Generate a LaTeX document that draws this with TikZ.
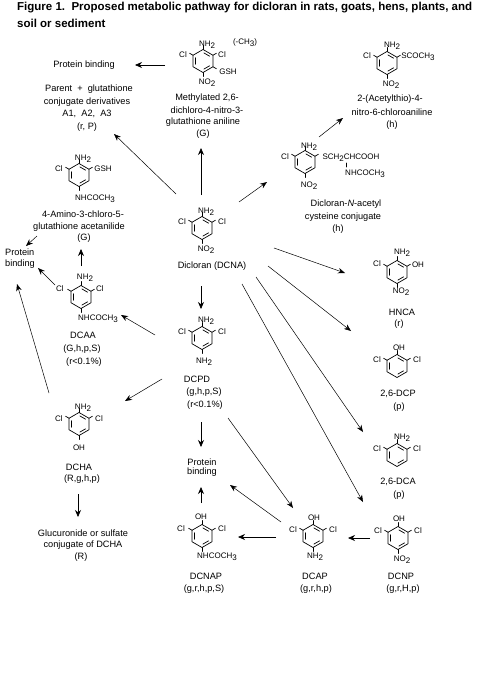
\documentclass[tikz,border=0pt]{standalone}
\usepackage{fontspec}
\setmainfont{Liberation Sans}
\usetikzlibrary{arrows.meta}
\newcommand{\sbs}[1]{\raisebox{-2.2pt}{#1}}
\tikzset{
  lab/.style={inner sep=0pt,font=\fontsize{9.2}{10}\selectfont,anchor=center},
  chem/.style={inner sep=0pt,font=\fontsize{8}{9}\selectfont,anchor=center},
  ttl/.style={inner sep=0pt,anchor=west,font=\fontsize{11.5}{12}\selectfont\bfseries},
  bond/.style={line width=0.7pt,line cap=round,line join=round},
  dbl/.style={bond,shorten >=1pt,shorten <=1pt},
  rarrow/.style={line width=0.7pt,-{Stealth[length=7pt,width=6pt]}},
  thin arrow/.style={line width=0.5pt,-{Stealth[length=7pt,width=5.5pt]}}
}
% ring: cx, cy, list of stub angles
\newcommand{\ringat}[3]{%
  \begin{scope}[shift={(#1,#2)},y=1pt]
  \draw[bond] (90:11.5) -- (30:11.5) -- (-30:11.5) -- (-90:11.5) -- (-150:11.5) -- (150:11.5) -- cycle;
  \draw[dbl] (150:8.6) -- (-150:8.6);
  \draw[dbl] (90:8.6) -- (30:8.6);
  \draw[dbl] (-90:8.6) -- (-30:8.6);
  \foreach \a in {#3}{\draw[bond] (\a:11.5) -- (\a:15.5);}
  \end{scope}
}
\newcommand{\conn}[6][rarrow]{%
  \coordinate (#2s) at (#3,#4); \coordinate (#2t) at (#5,#6);
  \draw[#1] (#2s) -- (#2t);}
\begin{document}
\begin{tikzpicture}[x=1pt,y=-1pt]
\useasboundingbox (0,0) rectangle (492,698);
\fill[white] (0,0) rectangle (492,698);
\node[ttl] (title1) at (17,8) {Figure 1.\ \ Proposed metabolic pathway for dicloran in rats, goats, hens, plants, and};
\node[ttl] (title2) at (17,23) {soil or sediment};

% Methylated
\ringat{203}{61}{90,-90,150,30,-30}
\node[chem] (m1) at (207,45) {NH\sbs{2}};
\node[chem] (m2) at (183,55) {Cl};
\node[chem] (m3) at (222,55) {Cl};
\node[chem] (m4) at (228,72) {GSH};
\node[chem] (m5) at (207,83) {NO\sbs{2}};
\node[chem] (m6) at (245,43) {(-CH\sbs{3})};
\node[lab] (mt1) at (207,98) {Methylated 2,6-};
\node[lab] (mt2) at (207,110) {dichloro-4-nitro-3-};
\node[lab] (mt3) at (203,122) {glutathione aniline};
\node[lab] (mt4) at (203,134) {(G)};

% Protein binding top
\node[lab] (pb1) at (84,65) {Protein binding};
\node[lab] (pa1) at (89,89) {Parent\ \ +\ \ glutathione};
\node[lab] (pa2) at (87,102) {conjugate derivatives};
\node[lab] (pa3) at (87,114) {A1,\ \ A2,\ \ A3};
\node[lab] (pa4) at (87,127) {(r, P)};

% Acetylthio
\ringat{387}{63}{90,-90,150,30}
\node[chem] (a1) at (392,46) {NH\sbs{2}};
\node[chem] (a2) at (367,56) {Cl};
\node[chem] (a3) at (418,57) {SCOCH\sbs{3}};
\node[chem] (a4) at (391,85) {NO\sbs{2}};
\node[lab] (at1) at (390,99) {2-(Acetylthio)-4-};
\node[lab] (at2) at (392,112) {nitro-6-chloroaniline};
\node[lab] (at3) at (392,125) {(h)};

% Cysteine
\ringat{305}{162}{90,-90,150,30}
\node[chem] (c1) at (309,147) {NH\sbs{2}};
\node[chem] (c2) at (285,157) {Cl};
\node[chem] (c3) at (351,158) {SCH\sbs{2}CHCOOH};
\node[chem] (c4) at (365,174) {NHCOCH\sbs{3}};
\node[chem] (c5) at (309,186) {NO\sbs{2}};
\draw[bond] (346,163) -- (346,167);
\node[lab] (ct1) at (346,204) {Dicloran-\textit{N}-acetyl};
\node[lab] (ct2) at (343,217) {cysteine conjugate};
\node[lab] (ct3) at (338,229) {(h)};

% 4-Amino
\ringat{79}{175}{90,-90,150,30}
\node[chem] (b1) at (83,159) {NH\sbs{2}};
\node[chem] (b2) at (59,169) {Cl};
\node[chem] (b3) at (103,169) {GSH};
\node[chem] (b4) at (95,199) {NHCOCH\sbs{3}};
\node[lab] (bt1) at (83,214) {4-Amino-3-chloro-5-};
\node[lab] (bt2) at (79,227) {glutathione acetanilide};
\node[lab] (bt3) at (84,238) {(G)};

% Left PB
\node[lab,anchor=west] (pb2) at (5,252) {Protein};
\node[lab,anchor=west] (pb3) at (5,264) {binding};

% Dicloran
\ringat{202}{228}{90,-90,150,30}
\node[chem] (d1) at (206,212) {NH\sbs{2}};
\node[chem] (d2) at (182,222) {Cl};
\node[chem] (d3) at (222,222) {Cl};
\node[chem] (d4) at (206,250) {NO\sbs{2}};
\node[lab] (dt) at (212,266) {Dicloran (DCNA)};

% DCAA
\ringat{81}{297}{90,-90,150,30}
\node[chem] (e1) at (85,278) {NH\sbs{2}};
\node[chem] (e2) at (60,289) {Cl};
\node[chem] (e3) at (100,289) {Cl};
\node[chem] (e4) at (98,319) {NHCOCH\sbs{3}};
\node[lab] (et1) at (83,335) {DCAA};
\node[lab] (et2) at (82,349) {(G,h,p,S)};
\node[lab] (et3) at (84,362) {(r<0.1\%)};

% DCPD
\ringat{202}{338}{90,-90,150,30}
\node[chem] (f1) at (206,321) {NH\sbs{2}};
\node[chem] (f2) at (182,332) {Cl};
\node[chem] (f3) at (222,332) {Cl};
\node[chem] (f4) at (204,362) {NH\sbs{2}};
\node[lab] (ft1) at (197,379) {DCPD};
\node[lab] (ft2) at (204,392) {(g,h,p,S)};
\node[lab] (ft3) at (205,405) {(r<0.1\%)};

% DCHA
\ringat{79}{424}{90,-90,150,30}
\node[chem] (g1) at (83,408) {NH\sbs{2}};
\node[chem] (g2) at (59,419) {Cl};
\node[chem] (g3) at (99,419) {Cl};
\node[chem] (g4) at (79,448) {OH};
\node[lab] (gt1) at (79,467) {DCHA};
\node[lab] (gt2) at (82,479) {(R,g,h,p)};
\node[lab] (gl1) at (83,533) {Glucuronide or sulfate};
\node[lab] (gl2) at (83,545) {conjugate of DCHA};
\node[lab] (gl3) at (81,557) {(R)};

% PB centre
\node[lab] (pb4) at (202,462) {Protein};
\node[lab] (pb5) at (202,472) {binding};

% DCNAP
\ringat{202}{536}{90,-90,150,30}
\node[chem] (h1) at (201,517) {OH};
\node[chem] (h2) at (181,529) {Cl};
\node[chem] (h3) at (222,529) {Cl};
\node[chem] (h4) at (217,557) {NHCOCH\sbs{3}};
\node[lab] (ht1) at (206,576) {DCNAP};
\node[lab] (ht2) at (204,589) {(g,r,h,p,S)};

% DCAP
\ringat{313}{536}{90,-90,150,30}
\node[chem] (i1) at (314,518) {OH};
\node[chem] (i2) at (293,530) {Cl};
\node[chem] (i3) at (333,530) {Cl};
\node[chem] (i4) at (315,557) {NH\sbs{2}};
\node[lab] (it1) at (315,576) {DCAP};
\node[lab] (it2) at (316,589) {(g,r,h,p)};

% DCNP
\ringat{398}{538}{90,-90,150,30}
\node[chem] (j1) at (399,519) {OH};
\node[chem] (j2) at (378,531) {Cl};
\node[chem] (j3) at (418,531) {Cl};
\node[chem] (j4) at (402,560) {NO\sbs{2}};
\node[lab] (jt1) at (401,576) {DCNP};
\node[lab] (jt2) at (403,589) {(g,r,H,p)};

% HNCA
\ringat{397}{272}{90,-90,150,30}
\node[chem] (k1) at (402,253) {NH\sbs{2}};
\node[chem] (k2) at (377,264) {Cl};
\node[chem] (k3) at (418,265) {OH};
\node[chem] (k4) at (401,292) {NO\sbs{2}};
\node[lab] (kt1) at (402,312) {HNCA};
\node[lab] (kt2) at (399,324) {(r)};

% 2,6-DCP
\ringat{397}{366}{90,150,30}
\node[chem] (l1) at (399,348) {OH};
\node[chem] (l2) at (377,360) {Cl};
\node[chem] (l3) at (417,360) {Cl};
\node[lab] (lt1) at (398,394) {2,6-DCP};
\node[lab] (lt2) at (399,407) {(p)};

% 2,6-DCA
\ringat{397}{455}{90,150,30}
\node[chem] (n1) at (402,438) {NH\sbs{2}};
\node[chem] (n2) at (377,449) {Cl};
\node[chem] (n3) at (417,449) {Cl};
\node[lab] (nt1) at (398,482) {2,6-DCA};
\node[lab] (nt2) at (399,495) {(p)};

% Connectors
\conn{x1}{165}{65}{135}{65}
\conn{x2}{201}{195}{201}{148}
\conn[thin arrow]{x3}{176}{194}{114}{134}
\conn[thin arrow]{x4}{239}{202}{267}{182}
\conn[thin arrow]{x5}{319}{137}{343}{118}
\conn[thin arrow]{x6}{37}{236}{26}{246}
\conn{x7}{81}{266}{81}{249}
\conn[thin arrow]{x8}{55}{285}{38}{268}
\conn[thin arrow]{x9}{49}{393}{17}{284}
\conn[thin arrow]{x10}{155}{335}{121}{315}
\conn[thin arrow]{x11}{162}{379}{125}{401}
\conn{x12}{201}{286}{201}{309}
\conn{x13}{201}{422}{201}{447}
\conn{x14}{78}{494}{78}{517}
\conn{x15}{201}{503}{201}{487}
\conn[thin arrow]{x16}{281}{522}{230}{485}
\conn[thin arrow]{x17}{228}{418}{293}{508}
\conn{x18}{370}{538}{348}{538}
\conn{x19}{276}{537}{238}{537}
\conn[thin arrow]{x20}{242}{284}{363}{502}
\conn[thin arrow]{x21}{256}{277}{363}{432}
\conn[thin arrow]{x22}{268}{266}{351}{331}
\conn[thin arrow]{x23}{274}{248}{345}{273}
\end{tikzpicture}
\end{document}
